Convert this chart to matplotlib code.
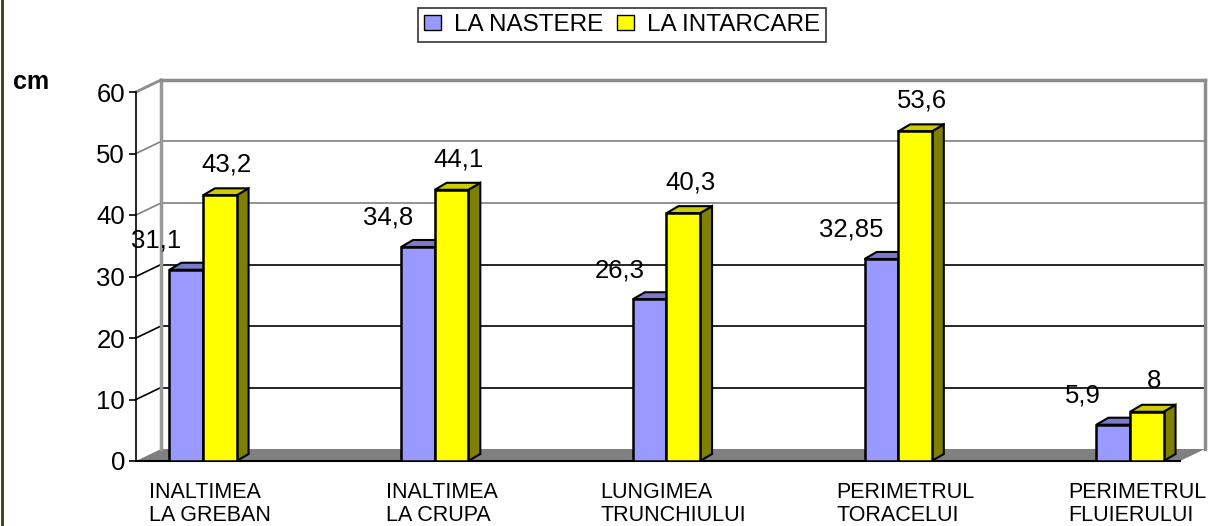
import numpy as np
import matplotlib
matplotlib.use("Agg")
from matplotlib import pyplot as plt
from matplotlib.patches import Polygon, Patch
from matplotlib.lines import Line2D

plt.rcParams['font.family'] = ['Liberation Sans', 'DejaVu Sans']

categories = ["INALTIMEA\nLA GREBAN", "INALTIMEA\nLA CRUPA", "LUNGIMEA\nTRUNCHIULUI",
              "PERIMETRUL\nTORACELUI", "PERIMETRUL\nFLUIERULUI"]
series_names = ["LA NASTERE", "LA INTARCARE"]
nastere = [31.1, 34.8, 26.3, 32.85, 5.9]
intarcare = [43.2, 44.1, 40.3, 53.6, 8]
yticks = [0, 10, 20, 30, 40, 50, 60]

front_colors = ['#9999ff', '#ffff00']
top_colors = ['#7a7acc', '#cccc00']
side_colors = ['#5c5c99', '#808000']

W, H = 1215, 526
fig = plt.figure(figsize=(W / 100, H / 100), dpi=100)
ax = fig.add_axes([136 / W, (H - 461) / H, (1180 - 136) / W, 369 / H])

x = np.arange(len(categories))
xmin, xmax = -0.289, 4.216
ax.set_xlim(xmin, xmax)
ax.set_ylim(0, 60)

# pixel -> data conversions for the fake 3d depth
px_x = (xmax - xmin) / (1180 - 136)
px_y = 60 / 369
wdx, wdy = 25 * px_x, 12 * px_y   # wall depth
bdx, bdy = 12 * px_x, 7 * px_y    # bar depth

# walls
ax.add_patch(Polygon([(xmin, 0), (xmin + wdx, wdy), (xmax + wdx, wdy), (xmax, 0)],
                     closed=True, fc='#808080', ec='none', clip_on=False, zorder=1))
for v in yticks[1:]:
    c = '#808080' if v >= 40 else 'black'
    ax.plot([xmin + wdx, xmax + wdx], [v + wdy, v + wdy], color=c, lw=1.2,
            clip_on=False, zorder=1)
    ax.plot([xmin, xmin + wdx], [v, v + wdy], color=c if v < 60 else '#808080',
            lw=1.2, clip_on=False, zorder=1)
ax.plot([xmin + wdx, xmin + wdx], [wdy, 60 + wdy], color='#999999', lw=2.5, clip_on=False, zorder=1)
ax.plot([xmax + wdx, xmax + wdx], [wdy, 60 + wdy], color='#8c8c8c', lw=2.5, clip_on=False, zorder=1)
ax.plot([xmin + wdx, xmax + wdx], [60 + wdy, 60 + wdy], color='#8c8c8c', lw=2.5, clip_on=False, zorder=1)
ax.plot([xmin, xmin + wdx], [60, 60 + wdy], color='#8c8c8c', lw=2, clip_on=False, zorder=1)

# bars
bw = 0.145
for s, vals in enumerate([nastere, intarcare]):
    for i, v in enumerate(vals):
        left = x[i] - bw + s * bw
        right = left + bw
        ax.add_patch(Polygon([(right, 0), (right + bdx, bdy), (right + bdx, v + bdy), (right, v)],
                             closed=True, fc=side_colors[s], ec='black', lw=1.5, zorder=3 + s))
        ax.add_patch(Polygon([(left, v), (left + bdx, v + bdy), (right + bdx, v + bdy), (right, v)],
                             closed=True, fc=top_colors[s], ec='black', lw=1.5, zorder=3 + s))
    ax.bar(x - bw / 2 + s * bw, vals, width=bw, color=front_colors[s], edgecolor='black',
           linewidth=1.8, zorder=3.5 + s)

def fmt(v):
    return ('%g' % v).replace('.', ',')

for i in range(len(categories)):
    ax.text(x[i] - bw / 2 - 0.13, nastere[i] + 2.8, fmt(nastere[i]), ha='center', va='bottom',
            fontsize=18.5, zorder=6)
    ax.text(x[i] + bw / 2 + 0.03, intarcare[i] + 3.0, fmt(intarcare[i]), ha='center', va='bottom',
            fontsize=18.5, zorder=6)

# axes styling
for sp in ['top', 'right']:
    ax.spines[sp].set_visible(False)
ax.spines['left'].set_linewidth(1.2)
ax.spines['bottom'].set_linewidth(1.5)
ax.spines['left'].set_zorder(2)
ax.set_yticks(yticks)
ax.tick_params(axis='y', length=5, width=1.2, labelsize=18.5, pad=3)
ax.set_xticks(x + 0.03)
ax.set_xticklabels(categories, multialignment='left', fontsize=15.5, linespacing=1.15)
ax.tick_params(axis='x', length=0, pad=15)
ax.patch.set_visible(False)

fig.text(13 / W, 1 - 89 / H, "cm", fontsize=18, fontweight='bold', ha='left', va='baseline')

handles = [Patch(fc=front_colors[0], ec='black'), Patch(fc=front_colors[1], ec='black')]
leg = fig.legend(handles, series_names, loc='upper center', bbox_to_anchor=(622 / W, 1 - 8 / H),
                 ncol=2, fontsize=17.5, frameon=True, fancybox=False, shadow=False,
                 handlelength=0.7, handleheight=0.6, handletextpad=0.5, columnspacing=0.6,
                 borderpad=0.25, borderaxespad=0)
leg.get_frame().set_edgecolor('black')
leg.get_frame().set_linewidth(1.2)

fig.add_artist(Line2D([1.5 / W, 1.5 / W], [0, 1], color='#3a3a10', lw=2))

fig.savefig("out.png", dpi=100)
